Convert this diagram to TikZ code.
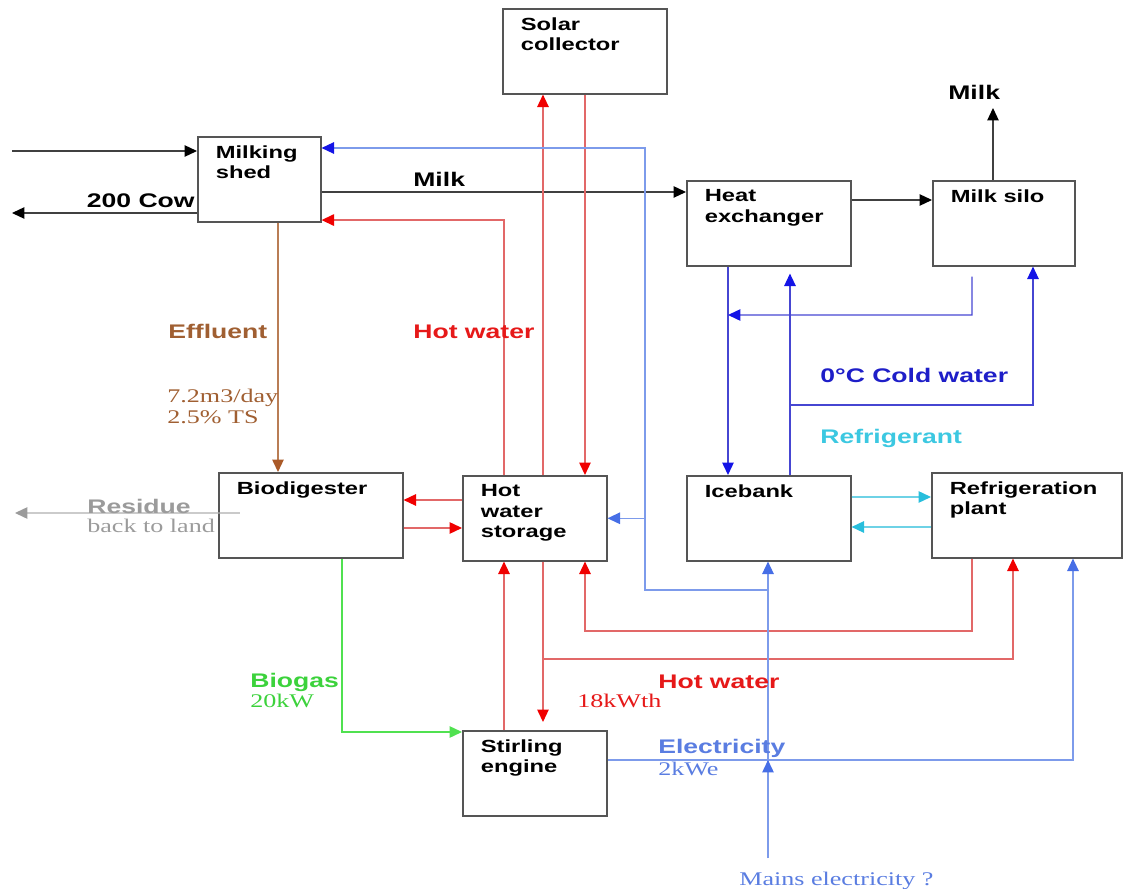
\documentclass[tikz,border=0pt]{standalone}
\usepackage{fontspec}
\usepackage{tikz}
\usetikzlibrary{arrows.meta}
\newfontfamily\diagsans[FakeStretch=1.35]{Liberation Sans}
\newfontfamily\diagserif[FakeStretch=1.35]{Liberation Serif}
\definecolor{unitborder}{RGB}{85,85,85}
\definecolor{hotline}{RGB}{226,104,104}
\definecolor{hottip}{RGB}{240,0,0}
\definecolor{hottext}{RGB}{230,25,25}
\definecolor{coldline}{RGB}{70,70,210}
\definecolor{coldtip}{RGB}{20,20,230}
\definecolor{coldtext}{RGB}{30,30,200}
\definecolor{elecline}{RGB}{125,155,235}
\definecolor{electip}{RGB}{70,110,230}
\definecolor{electext}{RGB}{90,125,225}
\definecolor{refrline}{RGB}{110,210,230}
\definecolor{refrtip}{RGB}{40,190,220}
\definecolor{refrtext}{RGB}{60,200,225}
\definecolor{gasline}{RGB}{80,225,80}
\definecolor{gastext}{RGB}{60,210,60}
\definecolor{effline}{RGB}{185,125,85}
\definecolor{efftip}{RGB}{170,90,40}
\definecolor{efftext}{RGB}{160,95,50}
\definecolor{restext}{RGB}{155,155,155}
\tikzset{%
  unit/.style={
    draw=unitborder,
    line width=0.9pt,
    fill=white,
    anchor=north west,
    minimum height=1.7cm,
    inner sep=0pt,
    label={[unit text]north west:#1}
  },
  unit text/.style={
    anchor=north west,
    inner sep=0pt,
    xshift=0.37cm,
    yshift=-0.18cm,
    align=left,
    font=\diagsans\bfseries\fontsize{10}{11.8}\selectfont
  },
  headed/.style={-{Triangle[length=0.25cm,width=0.23cm,color=#1]}},
  flow/.style={draw=black!75, line width=0.7pt, headed=black},
  hot/.style={draw=hotline, line width=0.8pt, headed=hottip},
  cold/.style={draw=coldline, line width=0.8pt, headed=coldtip},
  elec/.style={draw=elecline, line width=0.8pt, headed=electip},
  refr/.style={draw=refrline, line width=0.8pt, headed=refrtip},
  gas/.style={draw=gasline, line width=0.8pt, headed=gasline},
  effl/.style={draw=effline, line width=0.8pt, headed=efftip},
  resid/.style={draw=restext!80, line width=0.8pt, headed=restext},
  lab/.style={anchor=base west, inner sep=0pt,
    font=\diagsans\bfseries\fontsize{11.2}{13}\selectfont},
  note/.style={anchor=base west, inner sep=0pt,
    font=\diagserif\fontsize{11}{13}\selectfont},
}
\begin{document}
\begin{tikzpicture}[x=0.02cm, y=-0.02cm]
  \useasboundingbox (0,0) rectangle (1134,889);
  \foreach \id/\x/\y/\w/\txt in {
      solar/502/8/3.28/{Solar\\collector},
      shed/197/136/2.46/{Milking\\shed},
      hx/686/180/3.28/{Heat\\exchanger},
      silo/932/180/2.84/{Milk silo},
      digester/218/472/3.68/{Biodigester},
      store/462/475/2.88/{Hot\\water\\storage},
      ice/686/475/3.28/{Icebank},
      fridge/931/472/3.8/{Refrigeration\\plant},
      stirling/462/730/2.88/{Stirling\\engine}} {
    \node[unit=\txt, minimum width=\w cm] (\id) at (\x,\y) {};
  }
  \coordinate (cowin) at (12,151);
  \coordinate (cowout) at (12,213);
  \coordinate (milktop) at (993,108);
  \coordinate (residue) at (15,513);
  \coordinate (mains) at (768,858);
  \coordinate (h6) at (543,659);
  \coordinate (h7) at (585,631);
  \coordinate (c3) at (972,315);
  \coordinate (c4) at (1033,405);
  \coordinate (b1) at (645,590);

  \draw[flow] (cowin) -- (cowin -| shed.west);
  \draw[flow] (shed.west |- cowout) -- (cowout);
  \draw[flow] ([yshift=-1.12cm]shed.north east) coordinate (m1) -- (m1 -| hx.west);
  \draw[flow] ([yshift=-0.4cm]hx.north east) coordinate (m2) -- (m2 -| silo.west);
  \draw[flow] (silo.north -| milktop) -- (milktop);

  \draw[hot] ([xshift=1.62cm]store.north west) coordinate (h1) -- (h1 |- solar.south);
  \path ([xshift=2.46cm]store.north west) coordinate (h2)
        ([xshift=0.84cm]store.north west) coordinate (h3);
  \draw[hot] (h2 |- solar.south) -- (h2);
  \draw[hot] (h3) |- ([yshift=0.05cm]shed.south east);
  \draw[hot] ([yshift=-0.5cm]store.north west) coordinate (h4) -- (h4 -| digester.east);
  \draw[hot] ([yshift=-1.12cm]digester.north east) coordinate (h5) -- (h5 -| store.west);
  \draw[hot] (stirling.north -| h3) -- (store.south -| h3);
  \draw[hot, shorten >=0.16cm] (store.south -| h1) -- (stirling.north -| h1);
  \draw[hot] (h6) -| ([xshift=1.64cm]fridge.south west);
  \draw[hot] ([xshift=0.82cm]fridge.south west) |- (h7) -- (store.south -| h7);

  \draw[effl] ([xshift=1.62cm]shed.south west) coordinate (e1) -- (e1 |- digester.north);
  \draw[gas] ([xshift=2.48cm]digester.south west) |- ([yshift=-0.04cm]stirling.north west);
  \draw[resid] ([xshift=0.44cm,yshift=-0.82cm]digester.north west) -- (residue);

  \draw[cold] ([xshift=0.84cm]hx.south west) coordinate (c1) -- (c1 |- ice.north);
  \draw[cold, shorten >=0.14cm] ([xshift=2.08cm]ice.north west) coordinate (c2) -- (c2 |- hx.south);
  \draw[cold] ([xshift=0.8cm,yshift=-0.2cm]silo.south west) -- (c3) -- (c3 -| c1);
  \draw[cold] (c2 |- c4) -- (c4) -- (c4 |- silo.south);

  \draw[refr] ([yshift=-0.44cm]ice.north east) coordinate (r1) -- (r1 -| fridge.west);
  \draw[refr] ([yshift=-1.1cm]fridge.north west) coordinate (r2) -- (r2 -| ice.east);

  \draw[elec, headed=coldtip] (mains |- b1) -- (b1) |- ([yshift=-0.24cm]shed.north east);
  \draw[elec] (b1 |- store.east) -- (store.east);
  \draw[elec] (mains) -- (mains |- ice.south);
  \draw[elec] ([yshift=-0.6cm]stirling.north east) coordinate (w1) -| ([xshift=2.84cm]fridge.south west);
  \draw[elec] (mains) -- (mains |- w1);

  \node[lab, anchor=base east] (lcows) at (195,207) {200 Cow};
  \node[lab] (lmilk) at (413,186) {Milk};
  \node[lab] (lmilkout) at (948,99) {Milk};
  \node[lab, text=efftext] (leffl) at (168,338) {Effluent};
  \node[note, text=efftext] (lrate) at (167,402) {7.2m3/day};
  \node[note, text=efftext] (lts) at (167,423) {2.5\% TS};
  \node[lab, text=hottext] (lhot) at (413,338) {Hot water};
  \node[lab, text=coldtext] (lcold) at (820,382) {0°C Cold water};
  \node[lab, text=refrtext] (lrefr) at (820,443) {Refrigerant};
  \node[lab, text=restext] (lres) at (87,513) {Residue};
  \node[note, text=restext] (lland) at (87,532) {back to land};
  \node[lab, text=gastext] (lgas) at (250,687) {Biogas};
  \node[note, text=gastext] (lgaskw) at (250,707) {20kW};
  \node[lab, text=hottext] (lhotout) at (658,688) {Hot water};
  \node[note, text=hottext] (lkwth) at (577,707) {18kWth};
  \node[lab, text=electext] (lelec) at (658,753) {Electricity};
  \node[note, text=electext] (lkwe) at (658,775) {2kWe};
  \node[note, text=electext] (lmains) at (739,885) {Mains electricity ?};
\end{tikzpicture}
\end{document}
